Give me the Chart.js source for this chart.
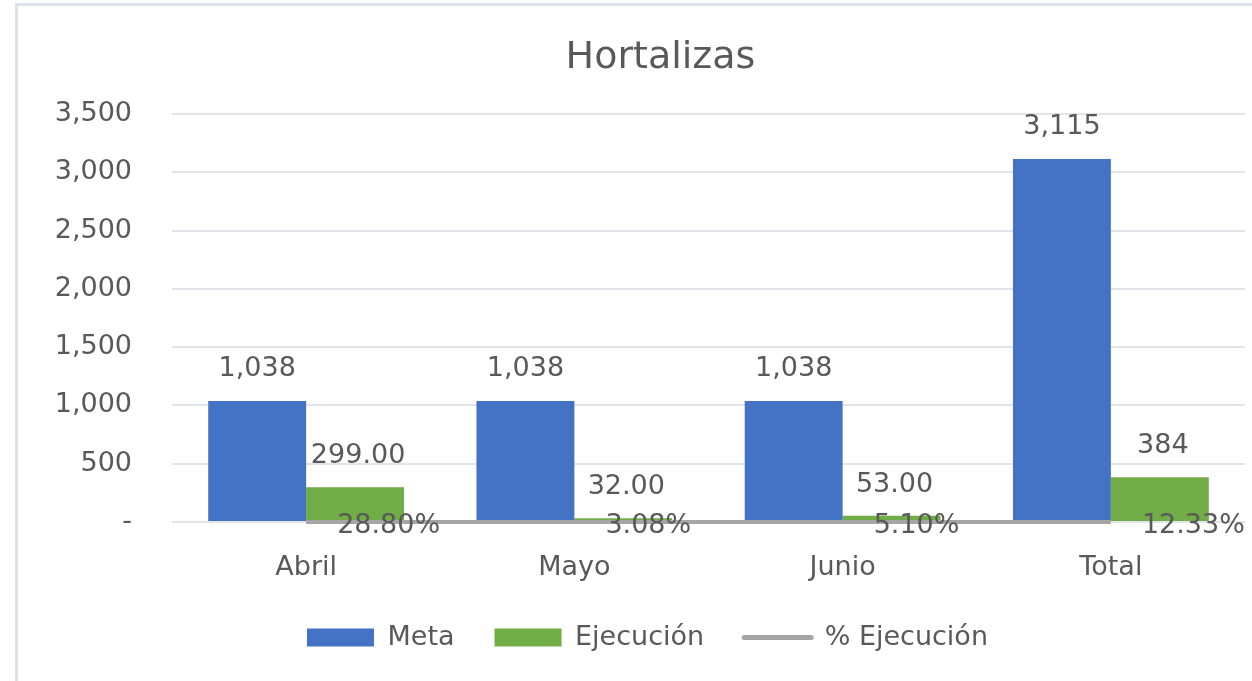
<!DOCTYPE html>
<html>
<head>
<meta charset="utf-8">
<script src="https://cdn.jsdelivr.net/npm/chart.js@4.4.1/dist/chart.umd.min.js"></script>
<style>
  html, body { margin: 0; padding: 0; background: #ffffff; }
  #wrap { position: relative; width: 1252px; height: 681px; }
</style>
</head>
<body>
<div id="wrap"><canvas id="c" width="1252" height="681"></canvas></div>
<script>
const chartTitle = 'Hortalizas';
const categories = ['Abril', 'Mayo', 'Junio', 'Total'];
const metaValues = [1038, 1038, 1038, 3115];
const ejecucionValues = [299, 32, 53, 384];
const ejecucionLabels = ['299.00', '32.00', '53.00', '384'];
const pctValues = [0.2880, 0.0308, 0.0510, 0.1233];
const yTicks = [0, 500, 1000, 1500, 2000, 2500, 3000, 3500];

const FONT = '"DejaVu Sans", sans-serif';
const TEXT = '#595959';

const framePlugin = {
  id: 'frame',
  beforeDraw(chart) {
    const ctx = chart.ctx;
    ctx.save();
    ctx.fillStyle = '#DDE2EA';
    ctx.fillRect(15, 3, 3, chart.height);
    ctx.fillRect(15, 3, chart.width, 3);
    ctx.fillStyle = TEXT;
    ctx.font = '38px ' + FONT;
    ctx.textAlign = 'center';
    ctx.textBaseline = 'middle';
    ctx.fillText(chartTitle, 660.5, 58);
    ctx.restore();
  }
};

const labelPlugin = {
  id: 'valueLabels',
  afterDatasetsDraw(chart) {
    const ctx = chart.ctx;
    ctx.save();
    ctx.font = '27px ' + FONT;
    ctx.fillStyle = TEXT;
    ctx.textBaseline = 'middle';
    ctx.textAlign = 'center';
    const m0 = chart.getDatasetMeta(0);
    m0.data.forEach((el, i) => {
      ctx.fillText(metaValues[i].toLocaleString('en-US'), el.x, el.y - 32);
    });
    const m1 = chart.getDatasetMeta(1);
    m1.data.forEach((el, i) => {
      ctx.fillText(ejecucionLabels[i], el.x + 3, el.y - 31);
    });
    ctx.textAlign = 'left';
    const m2 = chart.getDatasetMeta(2);
    m2.data.forEach((el, i) => {
      ctx.fillText((pctValues[i] * 100).toFixed(2) + '%', el.x + 31, el.y + 4);
    });
    ctx.restore();
  }
};

new Chart(document.getElementById('c'), {
  type: 'bar',
  data: {
    labels: categories,
    datasets: [
      { label: 'Meta', data: metaValues, backgroundColor: '#4472C4', borderWidth: 0, order: 1,
        categoryPercentage: 0.73, barPercentage: 1.0 },
      { label: 'Ejecución', data: ejecucionValues, backgroundColor: '#70AD47', borderWidth: 0, order: 1,
        categoryPercentage: 0.73, barPercentage: 1.0 },
      { type: 'line', label: '% Ejecución', data: pctValues, borderColor: '#A5A5A5', backgroundColor: '#A5A5A5',
        borderWidth: 4, pointRadius: 0, fill: false, order: 0, clip: false }
    ]
  },
  options: {
    responsive: false,
    animation: false,
    events: [],
    layout: { padding: { left: 50, right: 7, top: 114, bottom: 20 } },
    plugins: {
      tooltip: { enabled: false },
      title: { display: false },
      legend: {
        position: 'bottom',
        labels: {
          usePointStyle: true,
          pointStyleWidth: 67,
          boxHeight: 18,
          padding: 40,
          color: TEXT,
          font: { family: FONT, size: 27 },
          generateLabels(chart) {
            return chart.data.datasets.map((ds, i) => {
              const isLine = ds.type === 'line';
              return {
                text: ds.label,
                fillStyle: isLine ? 'rgba(0,0,0,0)' : ds.backgroundColor,
                strokeStyle: isLine ? ds.borderColor : ds.backgroundColor,
                lineWidth: isLine ? 5 : 0,
                lineCap: 'round',
                pointStyle: isLine ? 'line' : 'rect',
                fontColor: TEXT,
                hidden: false,
                datasetIndex: i
              };
            });
          }
        }
      }
    },
    scales: {
      x: {
        grid: { display: false },
        border: { display: false },
        ticks: { color: TEXT, font: { family: FONT, size: 27 }, padding: 22, maxRotation: 0 },
        afterFit(scale) { scale.height = 62; }
      },
      y: {
        min: 0,
        max: 3500,
        afterBuildTicks(scale) { scale.ticks = yTicks.map(v => ({ value: v })); },
        grid: { color: '#E1E5EB', lineWidth: 2, drawTicks: false },
        border: { display: false },
        ticks: {
          color: TEXT,
          font: { family: FONT, size: 27 },
          padding: 40,
          callback(v) { return v === 0 ? '-' : Number(v).toLocaleString('en-US'); }
        },
        afterFit(scale) { scale.width = 122; }
      }
    }
  },
  plugins: [framePlugin, labelPlugin]
});
</script>
</body>
</html>
